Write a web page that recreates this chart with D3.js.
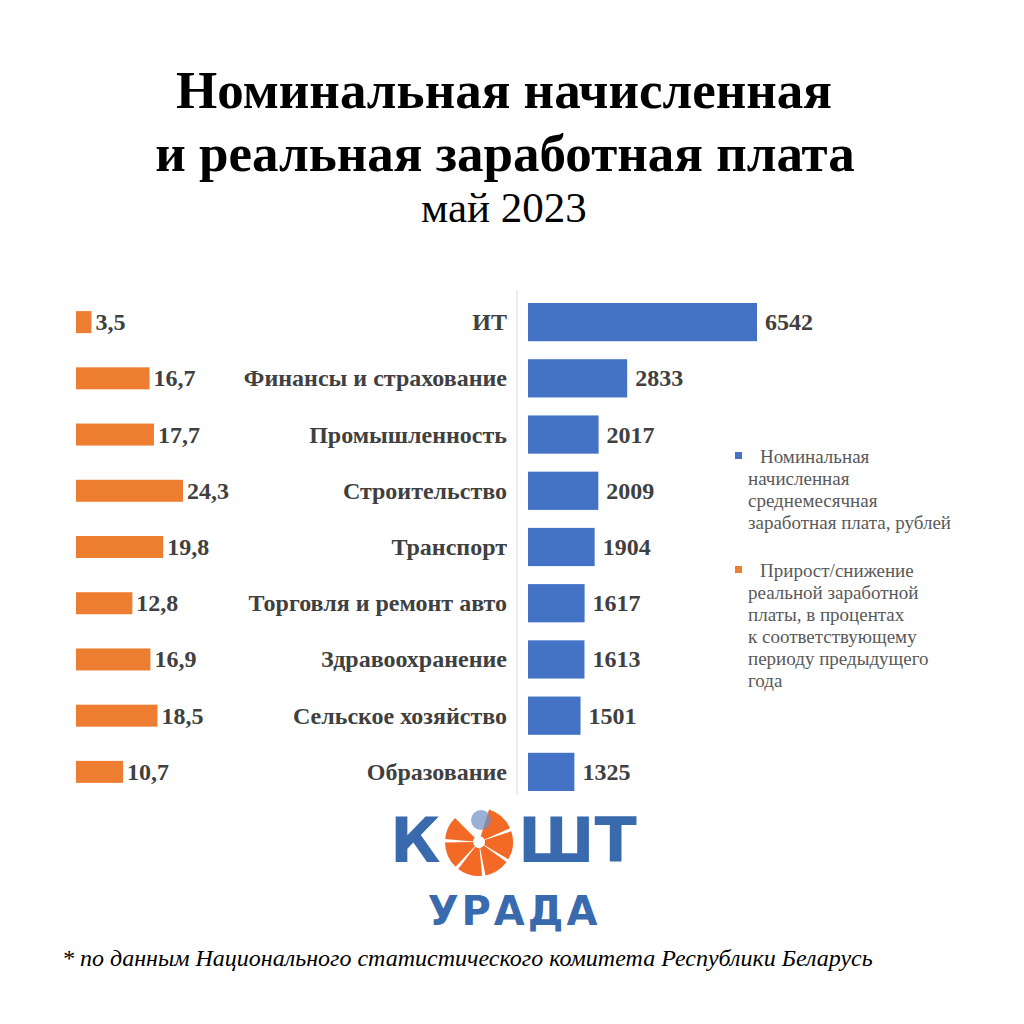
<!DOCTYPE html><html><head><meta charset="utf-8"><script src="https://cdn.jsdelivr.net/npm/d3@7"></script>
<style>body{margin:0;background:#fff}</style></head><body><svg id="c" width="1024" height="1024"></svg>
<script>
const categories=["ИТ","Финансы и страхование","Промышленность","Строительство","Транспорт","Торговля и ремонт авто","Здравоохранение","Сельское хозяйство","Образование"];
const nominal=[6542,2833,2017,2009,1904,1617,1613,1501,1325];
const growth=[3.5,16.7,17.7,24.3,19.8,12.8,16.9,18.5,10.7];
const legendLabels=[["Номинальная","начисленная","среднемесячная","заработная плата, рублей"],["Прирост/снижение","реальной заработной","платы, в процентах","к соответствующему","периоду предыдущего","года"]];
const svg=d3.select("#c");
const serif="'Liberation Serif','DejaVu Serif',serif";
svg.append("rect").attr("width",1024).attr("height",1024).attr("fill","#fff");
const t=svg.append("g").attr("font-family",serif).attr("text-anchor","middle").attr("fill","#000");
t.append("text").attr("x",504).attr("y",108).attr("font-size",53).attr("font-weight","bold").text("Номинальная начисленная");
t.append("text").attr("x",505).attr("y",171).attr("font-size",53).attr("font-weight","bold").text("и реальная заработная плата");
t.append("text").attr("x",504).attr("y",222).attr("font-size",43).text("май 2023");
const y=d3.scaleBand().domain(categories).range([294,800]).paddingInner(0.32).paddingOuter(0.16);
const xb=d3.scaleLinear().domain([0,6542]).range([528,757]);
const xo=d3.scaleLinear().domain([0,24.3]).range([76,183]);
svg.append("line").attr("x1",517).attr("x2",517).attr("y1",290).attr("y2",795).attr("stroke","#d9d9d9");
const g=svg.append("g").attr("font-family",serif).attr("font-weight","bold").attr("fill","#404040");
categories.forEach((c,i)=>{
 const cy=y(c)+y.bandwidth()/2;
 g.append("rect").attr("x",xb(0)).attr("y",y(c)).attr("width",xb(nominal[i])-xb(0)).attr("height",y.bandwidth()).attr("fill","#4472c4");
 g.append("text").attr("x",xb(nominal[i])+8).attr("y",cy+8).attr("font-size",24).text(nominal[i]);
 g.append("rect").attr("x",xo(0)).attr("y",cy-11).attr("width",xo(growth[i])-xo(0)).attr("height",22).attr("fill","#ed7d31");
 g.append("text").attr("x",xo(growth[i])+4).attr("y",cy+8).attr("font-size",24).text(String(growth[i]).replace(".",","));
 g.append("text").attr("x",507).attr("y",cy+8).attr("font-size",24).attr("text-anchor","end").text(c);
});
const lg=svg.append("g").attr("font-family",serif).attr("font-size",19).attr("fill","#595959");
[[463,"#4472c4"],[577,"#ed7d31"]].forEach(([yy,col],k)=>{
 lg.append("rect").attr("x",735).attr("y",yy-11).attr("width",7).attr("height",7).attr("fill",col);
 legendLabels[k].forEach((s,j)=>lg.append("text").attr("x",j==0?760:748).attr("y",yy+j*22).text(s));
});
// logo
const lo=svg.append("g");
const lb="#3a6aae", lor="#f26a25";
lo.append("text").attr("x",390).attr("y",862).attr("font-family","'DejaVu Sans',sans-serif").attr("font-weight","bold").attr("font-size",62).attr("fill",lb).text("К");
const arc=d3.arc().innerRadius(6).outerRadius(34);
const cx=479,cy=842;
const angs=[[0.3,1.15],[1.25,2.1],[2.2,2.95],[3.05,3.8],[3.9,4.7],[4.8,5.5]];
angs.forEach(a=>lo.append("path").attr("transform",`translate(${cx},${cy})`).attr("d",arc({startAngle:a[0],endAngle:a[1]})).attr("fill",lor));
lo.append("circle").attr("cx",cx+2).attr("cy",cy-22).attr("r",10).attr("fill","#6d8fc6").attr("opacity",0.7);
lo.append("text").attr("x",518).attr("y",862).attr("font-family","'DejaVu Sans',sans-serif").attr("font-weight","bold").attr("font-size",62).attr("fill",lb).text("ШТ");
lo.append("text").attr("x",514).attr("y",925).attr("text-anchor","middle").attr("font-family","'DejaVu Sans',sans-serif").attr("font-weight","bold").attr("font-size",40).attr("letter-spacing",3).attr("fill",lb).text("УРАДА");
svg.append("text").attr("x",62).attr("y",966).attr("font-family",serif).attr("font-style","italic").attr("font-size",24).attr("fill","#000").text("* по данным Национального статистического комитета Республики Беларусь");
</script></body></html>
